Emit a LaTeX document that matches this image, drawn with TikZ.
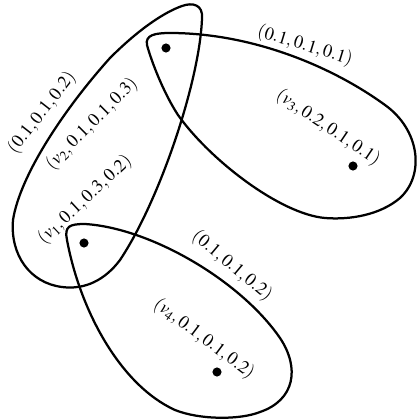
\documentclass[tikz,border=0pt]{standalone}
\usepackage{mathptmx}
\usepackage{fontspec}
\setmainfont{Liberation Serif}
\usepackage{tikz}

\tikzset{
  vtx/.style={circle, fill=black, inner sep=0pt, minimum size=6.5pt},
  hedge/.style={line width=1.6pt, line join=round},
  wlabel/.style={inner sep=0pt, font=\fontsize{13}{15}\selectfont}
}

\begin{document}
\begin{tikzpicture}[x=0.025cm, y=-0.025cm]
    \useasboundingbox (0,0) rectangle (420,420);

    % Vertices
    \node[vtx] (v1) at (84,243) {};
    \node[vtx] (v2) at (166,48) {};
    \node[vtx] (v3) at (353,166) {};
    \node[vtx] (v4) at (217,372) {};

    % Hyperedge {v1,v2}
    \draw[hedge] (182,6) .. controls (193,2) and (203,5) .. (202,18)
        .. controls (200,80) and (160,200) .. (120,260)
        .. controls (105,280) and (85,290) .. (62,287)
        .. controls (30,283) and (10,255) .. (13,220)
        .. controls (20,175) and (65,108) .. (110,58)
        .. controls (140,28) and (165,12) .. (182,6) -- cycle;
    % Hyperedge {v2,v3}
    \draw[hedge] (147,45) .. controls (145,35) and (155,33) .. (170,33)
        .. controls (250,33) and (330,65) .. (385,105)
        .. controls (420,130) and (425,175) .. (400,198)
        .. controls (380,215) and (350,220) .. (325,218)
        .. controls (280,214) and (210,160) .. (178,115)
        .. controls (163,92) and (151,60) .. (147,45) -- cycle;
    % Hyperedge {v1,v4}
    \draw[hedge] (67,240) .. controls (64,226) and (70,224) .. (85,224)
        .. controls (150,228) and (240,280) .. (280,338)
        .. controls (300,368) and (295,400) .. (260,412)
        .. controls (240,420) and (200,420) .. (175,410)
        .. controls (120,385) and (80,310) .. (67,240) -- cycle;

    % Weights
    \node[wlabel, rotate=52] (w12) at (42,113) {$(0.1,0.1,0.2)$};
    \node[wlabel, rotate=-17] (w23) at (305,46) {$(0.1,0.1,0.1)$};
    \node[wlabel, rotate=-40] (w14) at (232,266) {$(0.1,0.1,0.2)$};

    % Vertex labels
    \node[wlabel, rotate=45] (l2) at (92,124) {$(v_2,0.1,0.1,0.3)$};
    \node[wlabel, rotate=43] (l1) at (85,200) {$(v_1,0.1,0.3,0.2)$};
    \node[wlabel, rotate=-34] (l3) at (328,128) {$(v_3,0.2,0.1,0.1)$};
    \node[wlabel, rotate=-37] (l4) at (204,339) {$(v_4,0.1,0.1,0.2)$};
\end{tikzpicture}
\end{document}
